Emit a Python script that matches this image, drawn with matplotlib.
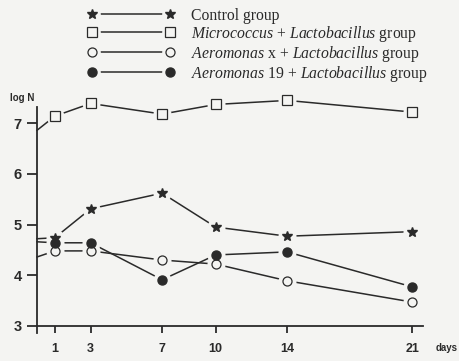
import matplotlib.pyplot as plt
from matplotlib.lines import Line2D
from matplotlib.legend_handler import HandlerTuple

# log N counts (day 0 has no marker)
days = [0, 1, 3, 7, 10, 14, 21]
control = [4.72, 4.74, 5.31, 5.62, 4.95, 4.77, 4.86]
micrococcus = [6.86, 7.14, 7.39, 7.18, 7.37, 7.45, 7.22]
aeromonas_x = [4.36, 4.48, 4.48, 4.30, 4.22, 3.89, 3.47]
aeromonas_19 = [4.66, 4.64, 4.64, 3.91, 4.40, 4.46, 3.77]

xticks = [1, 3, 7, 10, 14, 21]
yticks = [3, 4, 5, 6, 7]

labels = ['Control group',
          r'$\mathit{Micrococcus}$ + $\mathit{Lactobacillus}$ group',
          r'$\mathit{Aeromonas}$ x + $\mathit{Lactobacillus}$ group',
          r'$\mathit{Aeromonas}$ 19 + $\mathit{Lactobacillus}$ group']

bg = '#f4f4f2'
ink = '#2a2a2a'

plt.rcParams['mathtext.fontset'] = 'custom'
plt.rcParams['mathtext.rm'] = 'Liberation Serif'
plt.rcParams['mathtext.it'] = 'Liberation Serif:italic'

fig = plt.figure(figsize=(4.59, 3.61), dpi=100, facecolor=bg)
ax = fig.add_axes([0.0806, 0.0776, 0.841, 0.626])
ax.set_facecolor(bg)

styles = [
    dict(marker='*', ms=7, mfc=ink, mec=ink),
    dict(marker='s', ms=6.5, mfc=bg, mec=ink, mew=0.9),
    dict(marker='o', ms=6.5, mfc=bg, mec=ink, mew=0.9),
    dict(marker='o', ms=6.5, mfc=ink, mec=ink),
]
series = [control, micrococcus, aeromonas_x, aeromonas_19]

handles = []
for vals, st in zip(series, styles):
    ax.plot(days, vals, color=ink, lw=1.1, zorder=1, clip_on=False)
    ax.plot(days[1:], vals[1:], ls='none', marker='o', ms=13, mfc=bg,
            mec='none', zorder=2, clip_on=False)
    ax.plot(days[1:], vals[1:], ls='none', zorder=3, clip_on=False, **st)
    h_line = Line2D([], [], color=ink, lw=1.1)
    h_halo = Line2D([], [], ls='none', marker='o', ms=12, mfc=bg, mec='none')
    h_mark = Line2D([], [], ls='none', **st)
    handles.append((h_line, h_halo, h_mark))

fig.legend(handles, labels, loc='upper left', bbox_to_anchor=(0.19, 0.978),
           frameon=False, numpoints=2, handlelength=5.6, handletextpad=1.0,
           labelspacing=0.0, borderpad=0, borderaxespad=0,
           prop={'family': 'Liberation Serif', 'size': 11.3},
           handler_map={tuple: HandlerTuple(ndivide=1, pad=0)},
           labelcolor=ink)

ax.set_xlim(0, 21.6)
ax.set_ylim(2.86, 7.32)
ax.spines['top'].set_visible(False)
ax.spines['right'].set_visible(False)
ax.spines['bottom'].set_position(('data', 3))
for s in ['left', 'bottom']:
    ax.spines[s].set_color(ink)
    ax.spines[s].set_linewidth(1.3)

ax.set_xticks(xticks)
ax.set_yticks(yticks)
ax.tick_params(axis='y', direction='out', length=7, width=1.3, color=ink,
               pad=4, labelsize=10.5, labelcolor=ink)
ax.tick_params(axis='x', direction='out', length=5, width=1.3, color=ink,
               pad=7, labelsize=9, labelcolor=ink)
for t in ax.get_xticklabels() + ax.get_yticklabels():
    t.set_fontfamily('Liberation Sans')
    t.set_fontweight('bold')

fig.text(0.022, 0.728, 'log N', fontsize=7, fontweight='bold',
         family='Liberation Sans', color=ink, va='center')
fig.text(0.948, 0.036, 'days', fontsize=7, fontweight='bold',
         family='Liberation Sans', color=ink, va='center')

fig.savefig('out.png', dpi=100, facecolor=bg)
